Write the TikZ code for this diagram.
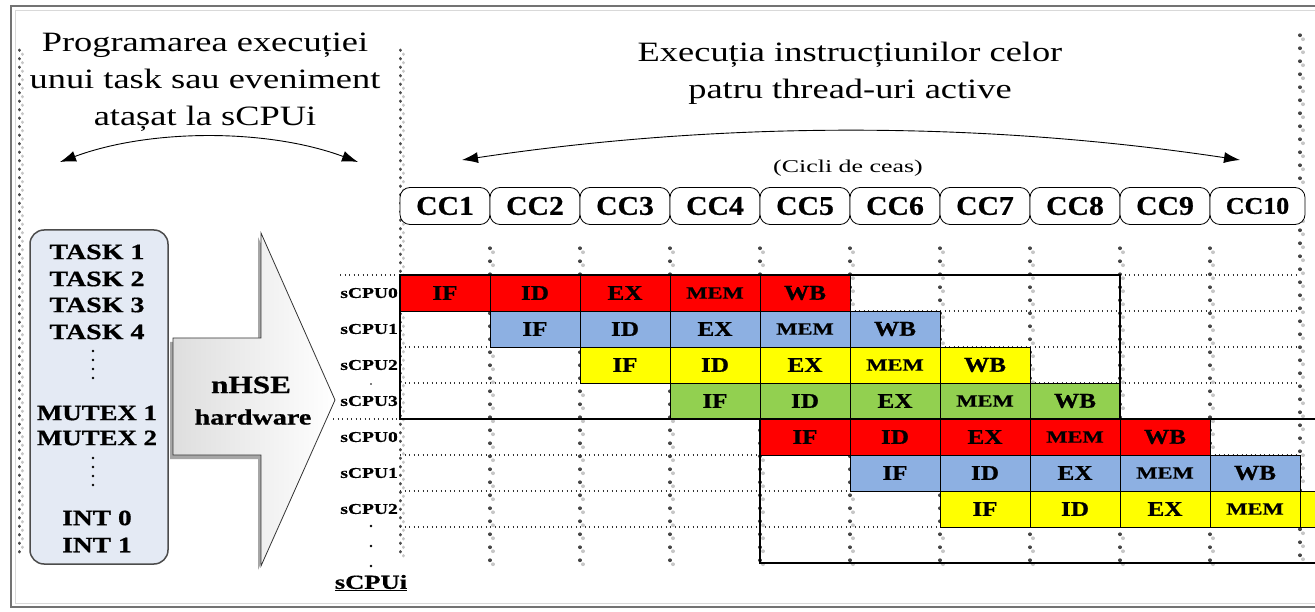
\documentclass[tikz,border=0pt]{standalone}
\usepackage{fontspec}
\setmainfont[BoldFeatures={FakeBold=0.6}]{Liberation Serif}
\usetikzlibrary{arrows.meta}
\definecolor{cred}{RGB}{255,0,0}
\definecolor{cblue}{RGB}{141,176,226}
\definecolor{cyel}{RGB}{255,255,0}
\definecolor{cgreen}{RGB}{146,208,80}
\definecolor{boxfill}{RGB}{228,234,244}
\newcommand{\sx}[2][1.3]{\scalebox{#1}[1]{#2}}
\newcommand{\memlbl}{\fontsize{17}{17}\selectfont\sx[1.32]{MEM}}
\begin{document}
\begin{tikzpicture}[x=1pt,y=-1pt,
  titletxt/.style={font=\fontsize{28}{37}\selectfont, align=center, inner sep=0pt},
  ccbox/.style={draw, rounded corners=10pt, minimum width=90pt, minimum height=37pt, inner sep=0pt, line width=0.8pt, font=\fontsize{27}{27}\selectfont\bfseries},
  cell/.style={draw, line width=0.7pt, minimum width=90pt, minimum height=36pt, inner sep=0pt, font=\fontsize{21}{21}\selectfont\bfseries},
  cpu/.style={anchor=east, inner sep=0pt, font=\fontsize{15}{15}\selectfont\bfseries},
  task/.style={inner sep=0pt, font=\fontsize{22}{22}\selectfont\bfseries},
  vdd/.style={dash pattern=on 0.5pt off 12.5pt, line cap=round, line width=3.2pt, black!72},
  vdl/.style={dash pattern=on 0.5pt off 12.5pt, line cap=round, line width=3.2pt, black!22},
  ldd/.style={dash pattern=on 0.5pt off 8pt, line cap=round, line width=3pt, black!70},
  ldl/.style={dash pattern=on 0.5pt off 8pt, line cap=round, line width=3pt, black!22},
  hdot/.style={dash pattern=on 1pt off 3.5pt, line width=1.1pt, black!80},
  framebox/.style={line width=2pt, black},
  curvearrow/.style={line width=0.9pt, {Latex[length=16pt,width=11pt]}-{Latex[length=16pt,width=11pt]}}
]
\useasboundingbox (0,0) rectangle (1315,612);
\clip (0,0) rectangle (1315,612);
% outer border
\draw[black!15, line width=1pt] (15,11) rectangle (1330,603);
\draw[black!55, line width=1.5pt] (11,6) rectangle (1330,607);

% long dotted separators
\draw[ldl] (22,54) -- (22,555);
\draw[ldd] (19,50) -- (19,552);
\draw[ldl] (403,54) -- (403,558);
\draw[ldd] (400,50) -- (400,555);
\draw[vdl] (1303,39) -- (1303,563);
\draw[vdd] (1300,35) -- (1300,560);

% column dotted lines
\foreach \x in {490,580,...,1210}{
  \draw[vdl] (\x+3,252) -- (\x+3,565);
  \draw[vdd] (\x,248) -- (\x,561);
}
% row dotted lines
\foreach \y in {275,311,...,527}{
  \draw[hdot] (400,\y) -- (1300,\y);
}
\draw[hdot] (340,275) -- (400,275);
\draw[hdot] (333,419) -- (400,419);

% titles
\node[titletxt] (tleft) at (205,82) {\sx{Programarea execuției}\\\sx{unui task sau eveniment}\\\sx{atașat la sCPUi}};
\node[titletxt] (tright) at (850,73) {\sx{Execuția instrucțiunilor celor}\\\sx{patru thread-uri active}};
\node[inner sep=0pt, font=\fontsize{18}{18}\selectfont] (cicli) at (848,168) {\sx[1.44]{(Cicli de ceas)}};

% curved arrows
\coordinate (la) at (60,162);
\coordinate (lb) at (358,162);
\draw[curvearrow] (la) .. controls (150,128.5) and (268,128.5) .. (lb);
\coordinate (ra) at (462,160);
\coordinate (rb) at (1240,160);
\draw[curvearrow] (ra) .. controls (721,121) and (981,121) .. (rb);

% clock cycle boxes
\foreach \k in {1,...,9}{
  \node[ccbox, fill=white] (cc\k) at ({445+90*(\k-1)},206) {\sx[1.1]{CC\k}};
}
\node[ccbox, fill=white, minimum width=95pt, font=\fontsize{24}{24}\selectfont\bfseries] (cc10) at (1257.5,206) {\sx[1.08]{CC10}};

% left task box
\node[draw=black!70, line width=1.5pt, fill=boxfill, rounded corners=14pt, minimum width=138pt, minimum height=334pt, inner sep=0pt] (tasks) at (99,397) {};
\node[task] (t1) at (97,252) {\sx[1.27]{TASK 1}};
\node[task] (t2) at (97,279) {\sx[1.27]{TASK 2}};
\node[task] (t3) at (97,305) {\sx[1.27]{TASK 3}};
\node[task] (t4) at (97,332) {\sx[1.27]{TASK 4}};
\foreach \yy in {351,360,369,378}{\fill (93,\yy) circle (1.3pt);}
\node[task] (m1) at (97,413) {\sx[1.22]{MUTEX 1}};
\node[task] (m2) at (97,438) {\sx[1.22]{MUTEX 2}};
\foreach \yy in {458,467,476,485}{\fill (93,\yy) circle (1.3pt);}
\node[task] (i0) at (97,518) {\sx[1.25]{INT 0}};
\node[task] (i1) at (97,545) {\sx[1.25]{INT 1}};

% big arrow
\fill[black!35] (170,342) -- (258,342) -- (258,237) -- (332,404) -- (258,570) -- (258,459) -- (170,459) -- cycle;
\shade[left color=black!13, right color=white, draw=black!80, line width=0.8pt]
  (173,338) -- (261,338) -- (261,233) -- (335,400) -- (261,566) -- (261,455) -- (173,455) -- cycle;
\node[inner sep=0pt, font=\fontsize{25}{25}\selectfont\bfseries] (nhse) at (251,385) {\sx[1.25]{nHSE}};
\node[inner sep=0pt, font=\fontsize{22}{22}\selectfont\bfseries] (hw) at (253,417) {\sx[1.28]{hardware}};

% pipeline cells
\foreach \r/\c/\s in {1/cred/1,2/cblue/2,3/cyel/3,4/cgreen/4,5/cred/5,6/cblue/6,7/cyel/7}{
  \foreach \st [count=\i from 0] in {IF,ID,EX,MEM,WB}{
    \pgfmathtruncatemacro{\k}{\s+\i}
    \ifnum\k<11
      \node[cell, fill=\c] (s\r-\k) at ({445+90*(\k-1)},{293+36*(\r-1)}) {\ifnum\i=3 \memlbl\else\sx[1.2]{\st}\fi};
    \fi
  }
}
\node[draw, line width=0.7pt, fill=cyel, minimum width=15pt, minimum height=36pt, inner sep=0pt] (s7-11) at (1307.5,509) {};

% frames
\coordinate (f1a) at (400,275);
\coordinate (f1b) at (1120,419);
\draw[framebox] (f1a) rectangle (f1b);
\coordinate (f2a) at (760,419);
\coordinate (f2b) at (760,563);
\coordinate (f2c) at (1325,419);
\coordinate (f2d) at (1325,563);
\draw[framebox] (f2c) -- (f2a) -- (f2b) -- (f2d);

% sCPU labels
\foreach \n/\lab in {1/0,2/1,3/2,4/3,5/0,6/1,7/2}{
  \node[cpu] (cpu\n) at (398,{293+36*(\n-1)}) {\sx{sCPU\lab}};
}
\fill (371,384) circle (0.8pt);
\foreach \yy in {526,546,566}{\fill (371,\yy) circle (1.3pt);}
\node[inner sep=0pt, font=\fontsize{20}{20}\selectfont\bfseries] (cpui) at (371,583) {\sx[1.33]{\underline{sCPUi}}};
\end{tikzpicture}
\end{document}
